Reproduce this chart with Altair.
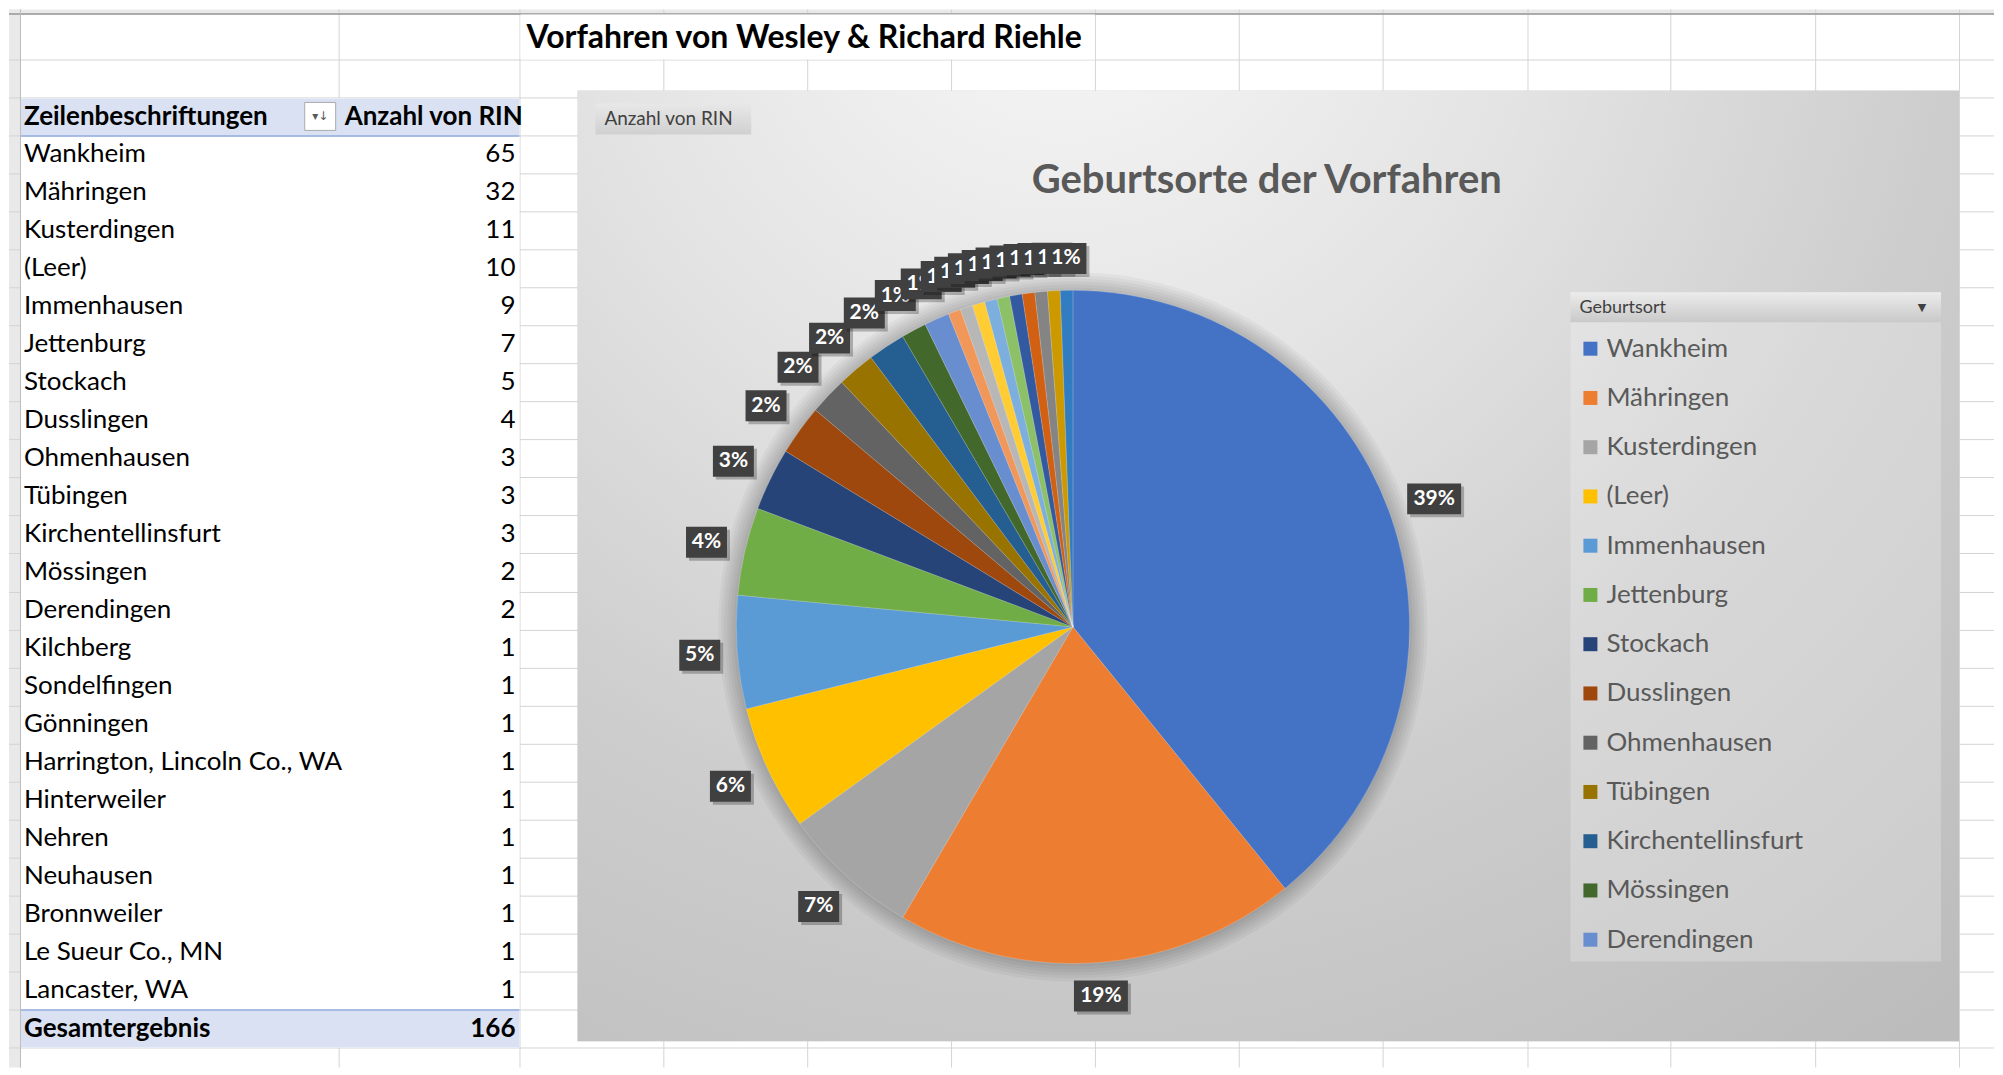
import altair as alt
import pandas as pd

# ------------------------------------------------------------------ data
categories = ["Wankheim", "Mähringen", "Kusterdingen", "(Leer)", "Immenhausen", "Jettenburg",
              "Stockach", "Dusslingen", "Ohmenhausen", "Tübingen", "Kirchentellinsfurt",
              "Mössingen", "Derendingen", "Kilchberg", "Sondelfingen", "Gönningen",
              "Harrington, Lincoln Co., WA", "Hinterweiler", "Nehren", "Neuhausen",
              "Bronnweiler", "Le Sueur Co., MN", "Lancaster, WA"]
counts = [65, 32, 11, 10, 9, 7, 5, 4, 3, 3, 3, 2, 2, 1, 1, 1, 1, 1, 1, 1, 1, 1, 1]
slice_colors = ["#4472C4", "#ED7D31", "#A5A5A5", "#FFC000", "#5B9BD5", "#70AD47",
                "#264478", "#9E480E", "#636363", "#997300", "#255E91", "#43682B",
                "#698ED0", "#F1975A", "#B7B7B7", "#FFCD33", "#7CAFDD", "#8CC168",
                "#335AA1", "#D26012", "#848484", "#CC9A00", "#327DC2"]
legend_count = 13

sheet_title = "Vorfahren von Wesley & Richard Riehle"
row_header = "Zeilenbeschriftungen"
value_header = "Anzahl von RIN"
total_name = "Gesamtergebnis"
chart_title = "Geburtsorte der Vorfahren"
field_button = "Anzahl von RIN"
legend_title = "Geburtsort"

# ------------------------------------------------------------------ layout (page pixels)
W, H = 1987, 1059
XS = alt.Scale(domain=[8, 8 + W], range=[0, W], nice=False, zero=False)
YS = alt.Scale(domain=[8, 8 + H], range=[0, H], nice=False, zero=False)
FONT = "Lato"
ROW_TOP, ROW_H = 96, 38.04
COL_EDGES = [19, 338, 519, 663, 807, 951, 1095, 1239, 1383, 1528, 1671, 1816, 1960]
CX, CY, R = 1073, 626, 337
LEG_Y0, LEG_DY = 347.5, 49.3


def X(f):
    return alt.X(f, type="quantitative", scale=XS, axis=None)


def Y(f):
    return alt.Y(f, type="quantitative", scale=YS, axis=None)


def box(x0, y0, x1, y1, **kw):
    df = pd.DataFrame({"x0": [x0], "x1": [x1], "y0": [y0], "y1": [y1]})
    return alt.Chart(df).mark_rect(**kw).encode(x=X("x0"), x2=alt.X2("x1"), y=Y("y0"), y2=alt.Y2("y1"))


def txt(t, x, y, **kw):
    df = pd.DataFrame({"t": [t], "x": [x], "y": [y]})
    return alt.Chart(df).mark_text(**kw).encode(x=X("x"), y=Y("y"), text="t:N")


def hrule(y, x0, x1, **kw):
    df = pd.DataFrame({"y": [y], "x0": [x0], "x1": [x1]})
    return alt.Chart(df).mark_rule(**kw).encode(y=Y("y"), x=X("x0"), x2=alt.X2("x1"))


layers = []

# ---- sheet chrome and gridlines
layers.append(box(8, 8, 1995, 12, color="#E9E9E9"))
layers.append(box(8, 8, 19, 1067, color="#E9E9E9"))
row_edges = [12, 58] + [round(ROW_TOP + k * ROW_H) for k in range(27)]
vdf = pd.DataFrame({"x": [c + 0.5 for c in COL_EDGES], "y0": 8, "y1": 1067})
hdf = pd.DataFrame({"y": [r + 0.5 for r in row_edges], "x0": 8, "x1": 1995})
layers.append(alt.Chart(vdf).mark_rule(color="#D4D4D4", strokeWidth=1)
              .encode(x=X("x"), y=Y("y0"), y2=alt.Y2("y1")))
layers.append(alt.Chart(hdf).mark_rule(color="#D4D4D4", strokeWidth=1)
              .encode(y=Y("y"), x=X("x0"), x2=alt.X2("x1")))
layers.append(hrule(12.5, 8, 1995, color="#ABABAB", strokeWidth=2))
layers.append(alt.Chart(pd.DataFrame({"x": [19.5], "y0": [8], "y1": [1067]}))
              .mark_rule(color="#BDBDBD", strokeWidth=1).encode(x=X("x"), y=Y("y0"), y2=alt.Y2("y1")))

# cells hidden by overflowing title and pivot table
layers.append(box(520, 13, 1095, 58, color="white"))
layers.append(box(20, 97, 519, 1047, color="white"))

# ---- pivot table
layers.append(box(20, 97, 519, 134, color="#D9E1F2"))
layers.append(hrule(134.5, 20, 519, color="#8EA9DB", strokeWidth=1.5))
layers.append(box(20, 1010, 519, 1047, color="#D9E1F2"))
layers.append(hrule(1009.5, 20, 519, color="#8EA9DB", strokeWidth=1.5))

layers.append(txt(row_header, 23, 115.5, align="left", baseline="middle", font=FONT,
                  fontSize=26, fontWeight="bold", color="#000000"))
layers.append(txt(value_header, 344, 115.5, align="left", baseline="middle", font=FONT,
                  fontSize=26, fontWeight="bold", color="#000000"))
layers.append(box(304, 101, 335, 129, color="white", stroke="#ABABAB", strokeWidth=1))
layers.append(txt("▾↓", 319.5, 115, align="center", baseline="middle", font="DejaVu Sans",
                  fontSize=12, color="#595959"))

tbl = pd.DataFrame({"cat": categories, "count": counts, "idx": list(range(len(categories)))})
rows = alt.Chart(tbl).transform_calculate(
    yc=f"{ROW_TOP} + (datum.idx + 1.5) * {ROW_H}", xl="23", xr="515")
layers.append(rows.mark_text(align="left", baseline="middle", font=FONT, fontSize=26, color="#000000")
              .encode(x=X("xl"), y=Y("yc"), text="cat:N"))
layers.append(rows.mark_text(align="right", baseline="middle", font=FONT, fontSize=26, color="#000000")
              .encode(x=X("xr"), y=Y("yc"), text="count:Q"))
layers.append(txt(total_name, 23, 1028.5, align="left", baseline="middle", font=FONT,
                  fontSize=26, fontWeight="bold", color="#000000"))
layers.append(alt.Chart(tbl).transform_aggregate(total="sum(count)")
              .transform_calculate(xr="515", yc="1028.5")
              .mark_text(align="right", baseline="middle", font=FONT, fontSize=26,
                         fontWeight="bold", color="#000000")
              .encode(x=X("xr"), y=Y("yc"), text="total:Q"))

# ---- sheet title
layers.append(txt(sheet_title, 526, 36, align="left", baseline="middle", font=FONT,
                  fontSize=32, fontWeight="bold", color="#000000"))

# ---- chart panel
panel_fill = {"gradient": "radial", "x1": 0.35, "y1": 0.05, "r1": 0, "x2": 0.35, "y2": 0.05, "r2": 1,
              "stops": [{"offset": 0, "color": "#f8f8f8"}, {"offset": 0.35, "color": "#e3e3e3"},
                        {"offset": 0.65, "color": "#cdcdcd"}, {"offset": 1, "color": "#bcbcbc"}]}
layers.append(box(577, 89, 1960, 1041, fill=panel_fill, opacity=1))

btn_fill = {"gradient": "linear", "x1": 0, "y1": 0, "x2": 0, "y2": 1,
            "stops": [{"offset": 0, "color": "#e8e8e8"}, {"offset": 1, "color": "#d0d0d0"}]}
layers.append(box(595, 102, 751, 133, fill=btn_fill, opacity=1))
layers.append(txt(field_button, 604, 117.5, align="left", baseline="middle", font=FONT,
                  fontSize=19, color="#404040"))

layers.append(txt(chart_title, 1267, 180, align="center", baseline="middle", font=FONT,
                  fontSize=40, fontWeight="bold", color="#595959"))

# ---- pie shadow (soft halo)
halo = pd.DataFrame({"k": [3, 6, 9, 12, 15, 18]})
layers.append(alt.Chart(halo).transform_calculate(sz=f"4 * ({R} + datum.k) * ({R} + datum.k)")
              .mark_circle(color="#000000", opacity=0.035)
              .encode(x=alt.XDatum(CX, type="quantitative", scale=XS, axis=None),
                      y=alt.YDatum(CY, type="quantitative", scale=YS, axis=None),
                      size=alt.Size("sz:Q", scale=None, legend=None)))

# ---- pie
color = alt.Color("cat:N", scale=alt.Scale(domain=categories, range=slice_colors), legend=None)
layers.append(alt.Chart(tbl).mark_arc(radius=R, stroke="#ffffff", strokeWidth=0.5, strokeOpacity=0.35)
              .encode(theta=alt.Theta("count:Q", stack=True), color=color,
                      order=alt.Order("idx:Q", sort="ascending"),
                      x=alt.XDatum(CX, type="quantitative", scale=XS, axis=None),
                      y=alt.YDatum(CY, type="quantitative", scale=YS, axis=None)))

# ---- legend
layers.append(box(1571, 291, 1942, 961, color="#ffffff", opacity=0.22))
hdr_fill = {"gradient": "linear", "x1": 0, "y1": 0, "x2": 0, "y2": 1,
            "stops": [{"offset": 0, "color": "#ececec"}, {"offset": 1, "color": "#c9c9c9"}]}
layers.append(box(1571, 291, 1942, 321, fill=hdr_fill, opacity=1))
layers.append(txt(legend_title, 1580, 306.5, align="left", baseline="middle", font=FONT,
                  fontSize=18, color="#404040"))
layers.append(txt("▼", 1923, 307, align="center", baseline="middle", font="DejaVu Sans",
                  fontSize=11, color="#404040"))
leg = alt.Chart(tbl).transform_filter(f"datum.idx < {legend_count}").transform_calculate(
    yc=f"{LEG_Y0} + datum.idx * {LEG_DY}", s0="1584", s1="1598", tx="1607"
).transform_calculate(q0="datum.yc - 7", q1="datum.yc + 7")
layers.append(leg.mark_rect().encode(x=X("s0"), x2=alt.X2("s1"), y=Y("q0"), y2=alt.Y2("q1"), color=color))
layers.append(leg.mark_text(align="left", baseline="middle", font=FONT, fontSize=26, color="#595959")
              .encode(x=X("tx"), y=Y("yc"), text="cat:N"))

# ---- data labels (one stack per slice so later boxes overlap earlier ones)
lab = (alt.Chart(tbl)
       .transform_joinaggregate(total="sum(count)")
       .transform_window(cum="sum(count)", sort=[alt.SortField("idx", order="ascending")], frame=[None, 0])
       .transform_calculate(ang="(datum.cum - datum.count / 2) / datum.total * 2 * PI")
       .transform_calculate(pct="round(datum.count / datum.total * 100) + '%'")
       .transform_calculate(hw="length(datum.pct) > 2 ? 27 : 20.5")
       .transform_calculate(ext="abs(sin(datum.ang)) * datum.hw + abs(cos(datum.ang)) * 15.5")
       .transform_calculate(rr=f"{R} + 16 + datum.ext")
       .transform_calculate(lx=f"{CX} + datum.rr * sin(datum.ang)", ly=f"{CY} - datum.rr * cos(datum.ang)")
       .transform_calculate(bx0="datum.lx - datum.hw", bx1="datum.lx + datum.hw",
                            by0="datum.ly - 15.5", by1="datum.ly + 15.5")
       .transform_calculate(sx0="datum.bx0 + 3", sx1="datum.bx1 + 3", sy0="datum.by0 + 3", sy1="datum.by1 + 3"))

for i in range(len(categories)):
    one = lab.transform_filter(f"datum.idx == {i}")
    layers.append(one.mark_rect(color="#000000", opacity=0.25)
                  .encode(x=X("sx0"), x2=alt.X2("sx1"), y=Y("sy0"), y2=alt.Y2("sy1")))
    layers.append(one.mark_rect(color="#404040", opacity=1)
                  .encode(x=X("bx0"), x2=alt.X2("bx1"), y=Y("by0"), y2=alt.Y2("by1")))
    layers.append(one.mark_text(align="center", baseline="middle", font=FONT, fontSize=21,
                                fontWeight="bold", color="#ffffff")
                  .encode(x=X("lx"), y=Y("ly"), text="pct:N"))

chart = (alt.layer(*layers)
         .properties(width=W, height=H, padding=0, background="white")
         .configure_view(strokeWidth=0))

chart.save("out.html", embed_options={"renderer": "svg", "actions": False})
